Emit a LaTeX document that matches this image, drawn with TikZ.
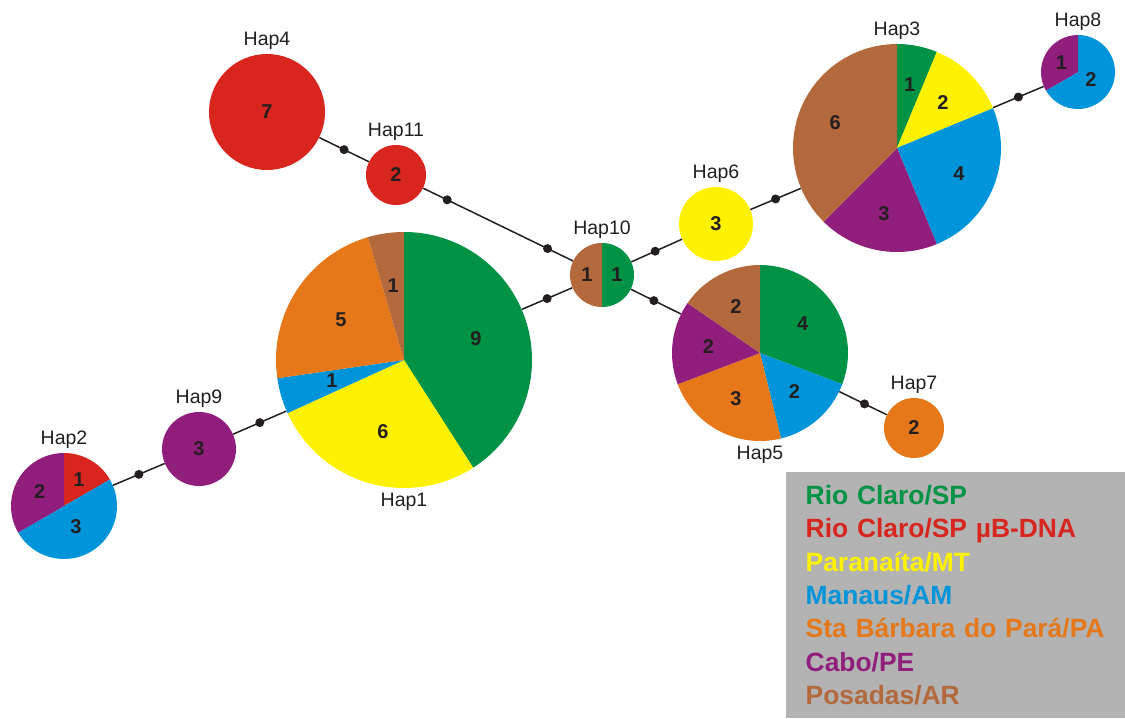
\documentclass[tikz,border=0pt]{standalone}
\usepackage{fontspec}
\setmainfont{Liberation Sans}

\definecolor{hgreen}{RGB}{0,146,69}
\definecolor{hred}{RGB}{216,38,30}
\definecolor{hyellow}{RGB}{255,242,0}
\definecolor{hblue}{RGB}{0,148,218}
\definecolor{horange}{RGB}{230,120,25}
\definecolor{hpurple}{RGB}{145,30,125}
\definecolor{hbrown}{RGB}{180,105,60}
\definecolor{legendgray}{RGB}{179,179,179}
\definecolor{ink}{RGB}{35,31,32}

\tikzset{
  hap/.style={circle, inner sep=0pt, minimum size=#1, text=ink,
    font=\bfseries\fontsize{20}{22}\selectfont},
  count/.style={inner sep=0pt, text=ink, font=\bfseries\fontsize{20}{22}\selectfont},
  link/.style={draw=ink, line width=1.5pt},
  mut/.style={circle, fill=ink, inner sep=0pt, minimum size=9pt},
  every label/.style={text=ink, font=\fontsize{19.5}{21}\selectfont},
  legend/.style={fill=legendgray, minimum width=339pt, minimum height=246pt,
    text width=300pt, inner xsep=19.5pt, align=left,
    font=\bfseries\fontsize{26.4}{33.3}\selectfont}
}

% haplotype node, radius, start angle, end angle, colour, count, count distance
\newcommand{\hapslice}[7]{%
  \fill[#5] (#1.center) -- ++(#3:#2) arc[start angle=#3, end angle=#4, radius=#2] -- cycle;
  \path (#1.center) ++({(#3+#4)/2}:#7) node[count] (#1#5) {#6};
}

\begin{document}
\begin{tikzpicture}[x=1pt,y=-1pt]
  \useasboundingbox (0,0) rectangle (1125,718);

  % haplotypes
  \node[hap=256pt, label={[label distance=1pt]below:Hap1}] (hap1) at (404,360) {};
  \node[hap=106pt, label={[label distance=1pt]above:Hap2}] (hap2) at (64,506) {};
  \node[hap=208pt, label={[label distance=1pt]above:Hap3}] (hap3) at (897,148) {};
  \node[hap=116pt, fill=hred, label={[label distance=1pt]above:Hap4}] (hap4) at (267,112) {7};
  \node[hap=176pt, label={[label distance=1pt]below:Hap5}] (hap5) at (760,353) {};
  \node[hap=74pt, fill=hyellow, label={[label distance=1pt]above:Hap6}] (hap6) at (716,224) {3};
  \node[hap=60pt, fill=horange, label={[label distance=1pt]above:Hap7}] (hap7) at (914,428) {2};
  \node[hap=74pt, label={[label distance=1pt]above:Hap8}] (hap8) at (1078,72) {};
  \node[hap=74pt, fill=hpurple, label={[label distance=1pt]above:Hap9}] (hap9) at (199,449) {3};
  \node[hap=64pt, label={[label distance=1pt]above:Hap10}] (hap10) at (602,275) {};
  \node[hap=60pt, fill=hred, label={[label distance=1pt]above:Hap11}] (hap11) at (396,175) {2};

  % links with mutation steps
  \draw[link] (hap2) -- node[mut] {} (hap9);
  \draw[link] (hap9) -- node[mut] {} (hap1);
  \draw[link] (hap1) -- node[mut] {} (hap10);
  \draw[link] (hap4) -- node[mut] {} (hap11);
  \draw[link] (hap11) -- node[mut, pos=0.16] {} node[mut, pos=0.83] {} (hap10);
  \draw[link] (hap10) -- node[mut, pos=0.47] {} (hap6);
  \draw[link] (hap10) -- node[mut, pos=0.46] {} (hap5);
  \draw[link] (hap6) -- node[mut] {} (hap3);
  \draw[link] (hap3) -- node[mut] {} (hap8);
  \draw[link] (hap5) -- node[mut, pos=0.53] {} (hap7);

  % pies
  \hapslice{hap1}{128pt}{90}{-57.3}{hgreen}{9}{75pt}
  \hapslice{hap1}{128pt}{-57.3}{-155.5}{hyellow}{6}{75pt}
  \hapslice{hap1}{128pt}{-155.5}{-171.8}{hblue}{1}{75pt}
  \hapslice{hap1}{128pt}{-171.8}{-253.6}{horange}{5}{75pt}
  \hapslice{hap1}{128pt}{-253.6}{-270}{hbrown}{1}{75pt}

  \hapslice{hap2}{53pt}{90}{30}{hred}{1}{30pt}
  \hapslice{hap2}{53pt}{30}{-150}{hblue}{3}{24pt}
  \hapslice{hap2}{53pt}{-150}{-270}{hpurple}{2}{28pt}

  \hapslice{hap3}{104pt}{90}{67.5}{hgreen}{1}{65pt}
  \hapslice{hap3}{104pt}{67.5}{22.5}{hyellow}{2}{65pt}
  \hapslice{hap3}{104pt}{22.5}{-67.5}{hblue}{4}{67pt}
  \hapslice{hap3}{104pt}{-67.5}{-135}{hpurple}{3}{67pt}
  \hapslice{hap3}{104pt}{-135}{-270}{hbrown}{6}{67pt}

  \hapslice{hap5}{88pt}{90}{-20.8}{hgreen}{4}{52pt}
  \hapslice{hap5}{88pt}{-20.8}{-76.2}{hblue}{2}{52pt}
  \hapslice{hap5}{88pt}{-76.2}{-159.2}{horange}{3}{52pt}
  \hapslice{hap5}{88pt}{-159.2}{-214.6}{hpurple}{2}{52pt}
  \hapslice{hap5}{88pt}{-214.6}{-270}{hbrown}{2}{52pt}

  \hapslice{hap8}{37pt}{90}{-150}{hblue}{2}{15pt}
  \hapslice{hap8}{37pt}{-150}{-270}{hpurple}{1}{19pt}

  \hapslice{hap10}{32pt}{90}{-90}{hgreen}{1}{15pt}
  \hapslice{hap10}{32pt}{-90}{-270}{hbrown}{1}{15pt}

  % legend
  \node[legend, anchor=north west] (legend) at (786,472) {%
    \textcolor{hgreen}{Rio Claro/SP}\\
    \textcolor{hred}{Rio Claro/SP µB-DNA}\\
    \textcolor{hyellow}{Paranaíta/MT}\\
    \textcolor{hblue}{Manaus/AM}\\
    \textcolor{horange}{Sta Bárbara do Pará/PA}\\
    \textcolor{hpurple}{Cabo/PE}\\
    \textcolor{hbrown}{Posadas/AR}};
\end{tikzpicture}
\end{document}
